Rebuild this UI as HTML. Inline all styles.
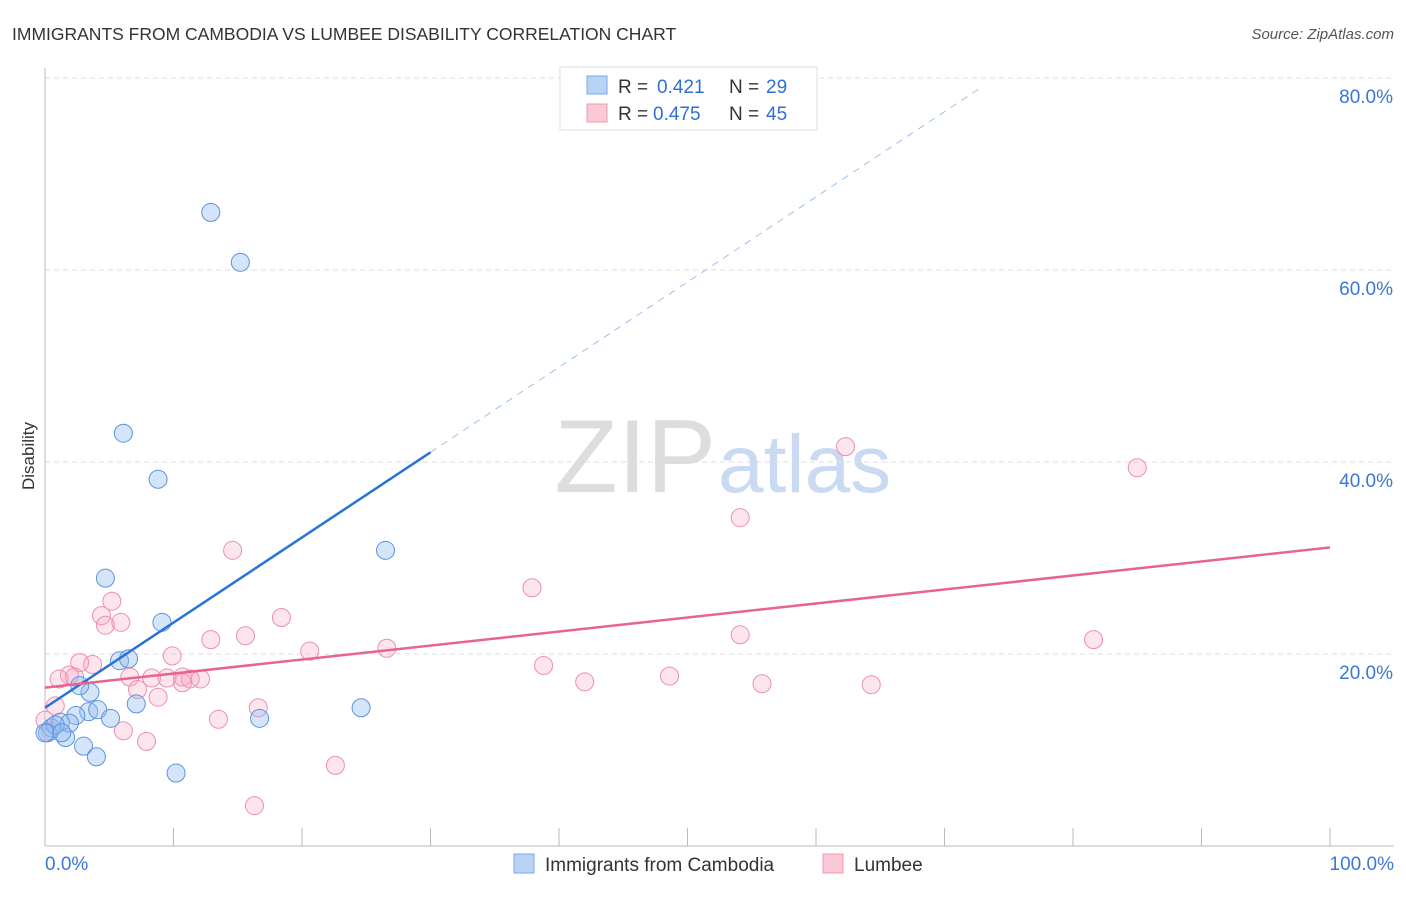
<!DOCTYPE html>
<html><head><meta charset="utf-8"><style>
body{margin:0;background:#fff;font-family:"Liberation Sans",sans-serif}
svg text{font-family:"Liberation Sans",sans-serif}
</style></head><body>
<svg id="c" width="1406" height="892">
<text x="12" y="40" font-size="17.5" fill="#333">IMMIGRANTS FROM CAMBODIA VS LUMBEE DISABILITY CORRELATION CHART</text>
<text x="1394" y="39" font-size="15" fill="#555" font-style="italic" text-anchor="end">Source: ZipAtlas.com</text>
<text x="34" y="456" font-size="17" fill="#333" transform="rotate(-90 34 456)" text-anchor="middle">Disability</text>
<text x="716" y="492" font-size="104" fill="#ddd" font-family="Liberation Serif" text-anchor="end">ZIP</text>
<text x="718" y="492" font-size="82" fill="#c9daf2">atlas</text>
<g id="grid"></g><g id="marks"></g>
<g>
<rect x="560" y="67" width="257" height="63" fill="#fff" stroke="#ddd"/>
<rect x="587" y="76" width="20" height="18" fill="#b9d3f5" stroke="#7aa6e6"/>
<rect x="587" y="104" width="20" height="18" fill="#fbc8d6" stroke="#ef9ab3"/>
<text x="618" y="93" font-size="19" fill="#333">R =</text>
<text x="657" y="93" font-size="19" fill="#2f6fd6">0.421</text>
<text x="729" y="93" font-size="19" fill="#333">N =</text>
<text x="766" y="93" font-size="19" fill="#2f6fd6">29</text>
<text x="618" y="120" font-size="19" fill="#333">R =</text>
<text x="653" y="120" font-size="19" fill="#2f6fd6">0.475</text>
<text x="729" y="120" font-size="19" fill="#333">N =</text>
<text x="766" y="120" font-size="19" fill="#2f6fd6">45</text>
</g>
<g>
<rect x="514" y="854" width="20" height="19" fill="#b9d3f5" stroke="#7aa6e6"/>
<text x="545" y="871" font-size="19" fill="#333">Immigrants from Cambodia</text>
<rect x="823" y="854" width="20" height="19" fill="#fbc8d6" stroke="#ef9ab3"/>
<text x="854" y="871" font-size="19" fill="#333">Lumbee</text>
</g>
</svg>
<script>
const xTicks=[0,10,20,30,40,50,60,70,80,90,100];
const yTicks=[20,40,60,80];
const blueX=[12.9,15.2,6.1,8.8,26.5,4.7,9.1,5.8,6.5,3.5,2.7,7.1,3.4,4.1,5.1,2.4,1.2,0.5,0.2,1.6,3.0,4.0,10.2,16.7,24.6,1.9,0.8,0.0,1.3];
const blueY=[66.0,60.8,43.0,38.2,30.8,27.9,23.3,19.3,19.5,16.0,16.7,14.8,14.0,14.2,13.3,13.6,12.9,12.3,11.8,11.3,10.4,9.3,7.6,13.3,14.4,12.8,12.6,11.8,11.8];
const pinkX=[62.3,85.0,54.1,14.6,37.9,5.2,4.4,4.7,5.9,18.4,15.6,12.9,54.1,81.6,20.6,26.6,9.9,3.7,2.7,38.8,1.9,1.1,2.3,6.6,8.3,9.5,10.7,12.1,11.3,7.2,8.8,42.0,48.6,55.8,64.3,16.6,13.5,6.1,7.9,22.6,16.3,0.8,0.4,10.7,0.0];
const pinkY=[41.6,39.4,34.2,30.8,26.9,25.5,24.0,23.0,23.3,23.8,21.9,21.5,22.0,21.5,20.3,20.6,19.8,18.9,19.1,18.8,17.8,17.4,17.6,17.6,17.5,17.5,17.6,17.4,17.4,16.3,15.5,17.1,17.7,16.9,16.8,14.4,13.2,12.0,10.9,8.4,4.2,14.6,12.0,17.0,13.1];
const blueTrend=[14.4,0.887];
const pinkTrend=[16.5,0.146];
const X=v=>45+v*12.85, Y=v=>846-v*9.6;
const NS='http://www.w3.org/2000/svg';
function mk(t,a,p){const e=document.createElementNS(NS,t);for(const k in a)e.setAttribute(k,a[k]);p.appendChild(e);return e;}
const g=document.getElementById('grid'), m=document.getElementById('marks');
let ax=mk('line',{x1:45,y1:68,x2:45,y2:846,stroke:'#bbb'},g);


let bx=mk('line',{x1:45,y1:846,x2:1394,y2:846,stroke:'#bbb'},g);


yTicks.forEach(t=>{
 let l=mk('line',{x1:45,x2:1394,y1:Y(t),y2:Y(t),stroke:'#ddd','stroke-dasharray':'5,4'},g);
 
 
 let tx=mk('text',{x:1393,y:Y(t)+25,'font-size':19,fill:'#3a78d8','text-anchor':'end'},g);tx.textContent=t.toFixed(1)+'%';
 
 
});
xTicks.forEach(t=>{
 let l=mk('line',{x1:X(t),x2:X(t),y1:828,y2:846,stroke:'#bbb'},g);
 
 
});
[[0,'0.0%','start',45],[100,'100.0%','end',1394]].forEach(d=>{
 let tx=mk('text',{x:d[3],y:870,'font-size':19,fill:'#3a78d8','text-anchor':d[2]},g);tx.textContent=d[1];
 
 
});
pinkX.forEach((x,i)=>{
 let c=mk('circle',{cx:X(x),cy:Y(pinkY[i]),r:9,fill:'rgba(248,170,195,0.3)',stroke:'#ec8fae','stroke-width':1},m);
 
 
});
blueX.forEach((x,i)=>{
 let c=mk('circle',{cx:X(x),cy:Y(blueY[i]),r:9,fill:'rgba(150,190,240,0.4)',stroke:'#5b93dd','stroke-width':1},m);
 
 
});
let bs=mk('line',{x1:X(0),y1:Y(blueTrend[0]),x2:X(30),y2:Y(blueTrend[0]+30*blueTrend[1]),stroke:'#2a72d8','stroke-width':2.5},m);


let bd=mk('line',{x1:X(30),y1:Y(blueTrend[0]+30*blueTrend[1]),x2:X(72.8),y2:Y(blueTrend[0]+72.8*blueTrend[1]),stroke:'#9fbfea','stroke-width':1,'stroke-dasharray':'7,6'},m);


let ps=mk('line',{x1:X(0),y1:Y(pinkTrend[0]),x2:X(100),y2:Y(pinkTrend[0]+100*pinkTrend[1]),stroke:'#e8638f','stroke-width':2.5},m);


</script>
</body></html>
